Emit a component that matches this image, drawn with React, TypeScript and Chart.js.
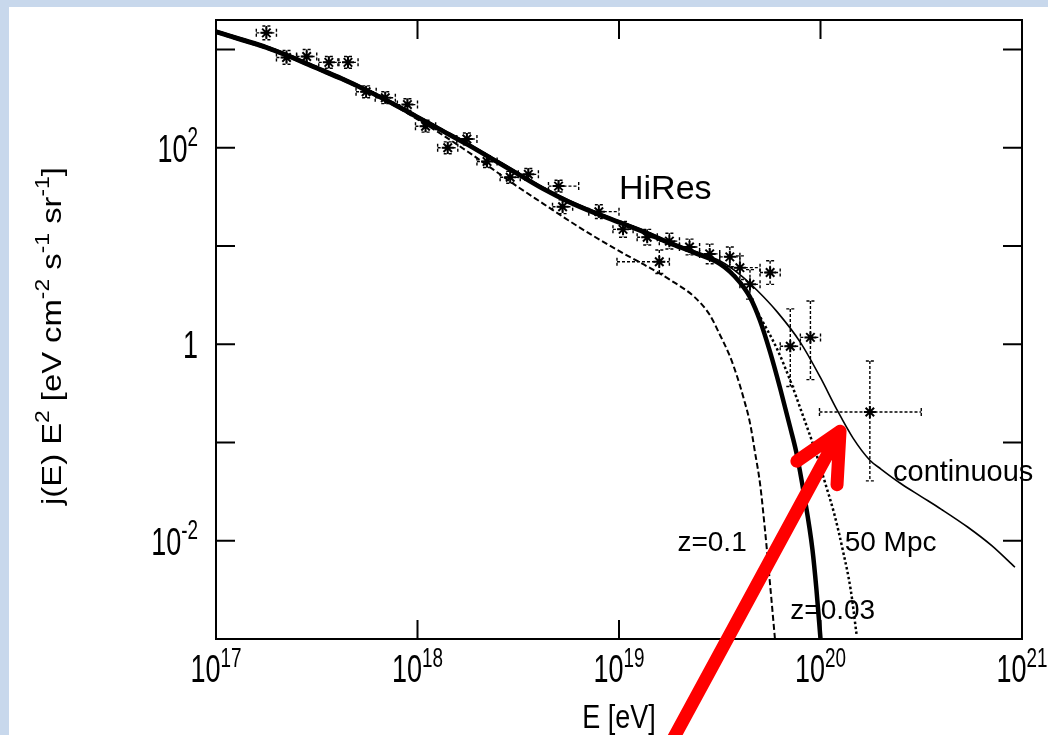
import React, { useEffect, useRef } from 'react';
import { Chart, registerables } from 'chart.js';

Chart.register(...registerables);

const W = 1048;
const H = 735;
const FONT = '"Liberation Sans", Arial, Helvetica, sans-serif';

// ---- Data (log10 E [eV], log10 j(E)E^2) ----
// z = 0.03 (thick solid)
const z003LogE = [17.0, 17.125, 17.25, 17.375, 17.5, 17.625, 17.75, 17.875, 18.0, 18.125, 18.25, 18.375, 18.5, 18.625, 18.75, 18.875, 19.0, 19.125, 19.25, 19.375, 19.5, 19.55, 19.6, 19.65, 19.7, 19.75, 19.8, 19.85, 19.88, 19.92, 19.96, 19.98, 20.0];
const z003LogJ = [3.18, 3.1, 3.02, 2.92, 2.81, 2.7, 2.58, 2.45, 2.31, 2.17, 2.03, 1.88, 1.73, 1.58, 1.45, 1.34, 1.24, 1.14, 1.03, 0.93, 0.82, 0.74, 0.63, 0.48, 0.24, -0.08, -0.45, -0.85, -1.1, -1.55, -2.09, -2.5, -3.0];
// z = 0.1 (dashed)
const z01LogE = [17.0, 17.125, 17.25, 17.375, 17.5, 17.625, 17.75, 17.875, 18.0, 18.125, 18.25, 18.375, 18.5, 18.625, 18.75, 18.875, 19.0, 19.125, 19.25, 19.375, 19.45, 19.5, 19.55, 19.585, 19.62, 19.65, 19.675, 19.7, 19.725, 19.75, 19.774];
const z01LogJ = [3.17, 3.09, 3.01, 2.91, 2.8, 2.69, 2.57, 2.44, 2.29, 2.13, 1.96, 1.78, 1.6, 1.43, 1.26, 1.1, 0.95, 0.81, 0.66, 0.48, 0.3, 0.1, -0.12, -0.32, -0.56, -0.8, -1.1, -1.42, -1.9, -2.45, -3.0];
// 50 Mpc (dotted)
const mpc50LogE = [17.0, 17.125, 17.25, 17.375, 17.5, 17.625, 17.75, 17.875, 18.0, 18.125, 18.25, 18.375, 18.5, 18.625, 18.75, 18.875, 19.0, 19.125, 19.25, 19.375, 19.5, 19.56, 19.615, 19.7, 19.785, 19.85, 19.91, 19.97, 20.02, 20.07, 20.11, 20.15, 20.18];
const mpc50LogJ = [3.19, 3.11, 3.03, 2.93, 2.82, 2.71, 2.59, 2.46, 2.32, 2.18, 2.04, 1.89, 1.74, 1.59, 1.46, 1.35, 1.25, 1.15, 1.04, 0.94, 0.83, 0.73, 0.6, 0.28, -0.05, -0.37, -0.71, -1.06, -1.39, -1.74, -2.09, -2.5, -2.97];
// continuous (thin solid)
const contLogE = [17.0, 17.125, 17.25, 17.375, 17.5, 17.625, 17.75, 17.875, 18.0, 18.125, 18.25, 18.375, 18.5, 18.625, 18.75, 18.875, 19.0, 19.125, 19.25, 19.375, 19.5, 19.6, 19.685, 19.785, 19.9, 20.0, 20.08, 20.16, 20.245, 20.3, 20.4, 20.5, 20.6, 20.73, 20.85, 20.965];
const contLogJ = [3.2, 3.12, 3.04, 2.94, 2.83, 2.72, 2.6, 2.47, 2.33, 2.19, 2.05, 1.9, 1.75, 1.6, 1.47, 1.36, 1.26, 1.16, 1.05, 0.95, 0.85, 0.71, 0.55, 0.33, 0.02, -0.34, -0.66, -0.95, -1.18, -1.27, -1.42, -1.55, -1.68, -1.86, -2.05, -2.27];

// HiRes data points
const hiresLogE = [17.25, 17.35, 17.45, 17.56, 17.655, 17.745, 17.84, 17.95, 18.04, 18.15, 18.245, 18.345, 18.46, 18.55, 18.7, 18.72, 18.9, 19.02, 19.14, 19.2, 19.25, 19.35, 19.45, 19.55, 19.6, 19.65, 19.75, 19.85, 19.95, 20.245];
const hiresLogJ = [3.17, 2.92, 2.93, 2.87, 2.87, 2.57, 2.51, 2.44, 2.22, 2.0, 2.09, 1.86, 1.7, 1.73, 1.61, 1.4, 1.35, 1.17, 1.09, 0.84, 1.05, 0.99, 0.92, 0.89, 0.78, 0.61, 0.73, -0.02, 0.07, -0.69];
const hiresXErrLo = [0.05, 0.05, 0.05, 0.05, 0.05, 0.05, 0.05, 0.05, 0.05, 0.05, 0.05, 0.05, 0.05, 0.05, 0.05, 0.05, 0.05, 0.05, 0.05, 0.21, 0.05, 0.05, 0.05, 0.05, 0.05, 0.05, 0.05, 0.05, 0.05, 0.25];
const hiresXErrHi = [0.05, 0.05, 0.05, 0.05, 0.05, 0.05, 0.05, 0.05, 0.05, 0.05, 0.05, 0.05, 0.05, 0.05, 0.1, 0.05, 0.1, 0.05, 0.05, 0.05, 0.05, 0.05, 0.05, 0.05, 0.1, 0.05, 0.05, 0.05, 0.05, 0.255];
const hiresYErrLo = [0.07, 0.07, 0.07, 0.06, 0.06, 0.06, 0.06, 0.06, 0.06, 0.06, 0.06, 0.06, 0.06, 0.06, 0.06, 0.07, 0.07, 0.08, 0.08, 0.12, 0.08, 0.08, 0.1, 0.1, 0.12, 0.15, 0.12, 0.41, 0.43, 0.7];
const hiresYErrHi = [0.07, 0.07, 0.07, 0.06, 0.06, 0.06, 0.06, 0.06, 0.06, 0.06, 0.06, 0.06, 0.06, 0.06, 0.06, 0.07, 0.07, 0.08, 0.08, 0.12, 0.08, 0.08, 0.1, 0.1, 0.12, 0.15, 0.12, 0.38, 0.37, 0.52];

// Axes
const xMinExp = 17;
const xMaxExp = 21;
const yMinExp = -3;
const yMax = 2000;
const xTickExps = [17, 18, 19, 20, 21];
const yTickExps = [-3, -2, -1, 0, 1, 2, 3];
const yLabelExps = [2, 0, -2];

// Annotations (log10 E, log10 J)
const labels = [
  { text: 'HiRes', logE: 19.0, logJ: 1.475, size: 34 },
  { text: 'continuous', logE: 20.36, logJ: -1.394, size: 29 },
  { text: 'z=0.1', logE: 19.29, logJ: -2.106, size: 28 },
  { text: '50 Mpc', logE: 20.12, logJ: -2.106, size: 28 },
  { text: 'z=0.03', logE: 19.85, logJ: -2.8, size: 28 },
];
const arrowTail = { logE: 19.26, logJ: -4.05 };
const arrowTip = { logE: 20.097, logJ: -0.885 };
const arrowWing1 = { logE: 19.883, logJ: -1.19 };
const arrowWing2 = { logE: 20.082, logJ: -1.43 };

const toPts = (xs: number[], ys: number[]) => xs.map((x, i) => ({ x: Math.pow(10, x), y: Math.pow(10, ys[i]) }));

type Part = { t: string; sup?: boolean };

function drawRich(
  ctx: CanvasRenderingContext2D,
  parts: Part[],
  x: number,
  y: number,
  size: number,
  align: 'left' | 'center' | 'right',
  sx = 1,
  sy = 1,
  supRatio = 0.72,
  rise = 0.42
) {
  const supSize = size * supRatio;
  ctx.save();
  ctx.translate(x, y);
  ctx.scale(sx, sy);
  ctx.textAlign = 'left';
  ctx.textBaseline = 'alphabetic';
  ctx.fillStyle = '#000';
  let total = 0;
  const widths = parts.map((p) => {
    ctx.font = `${p.sup ? supSize : size}px ${FONT}`;
    const w = ctx.measureText(p.t).width;
    total += w;
    return w;
  });
  let cx = align === 'left' ? 0 : align === 'center' ? -total / 2 : -total;
  parts.forEach((p, i) => {
    ctx.font = `${p.sup ? supSize : size}px ${FONT}`;
    ctx.fillText(p.t, cx, p.sup ? -size * rise : 0);
    cx += widths[i];
  });
  ctx.restore();
}

const expLabel = (e: number): Part[] => (e === 0 ? [{ t: '1' }] : [{ t: '10' }, { t: String(e), sup: true }]);

const decorPlugin = {
  id: 'decor',
  beforeDraw(chart: any) {
    const ctx: CanvasRenderingContext2D = chart.ctx;
    ctx.save();
    ctx.fillStyle = '#c8d8ec';
    ctx.fillRect(0, 0, W, H);
    ctx.fillStyle = '#ffffff';
    ctx.fillRect(9, 7, W - 9, H - 7);
    ctx.restore();
  },
  beforeDatasetsDraw(chart: any) {
    const ctx: CanvasRenderingContext2D = chart.ctx;
    const xs = chart.scales.x;
    const ys = chart.scales.y;
    const area = chart.chartArea;
    ctx.save();
    ctx.beginPath();
    ctx.rect(area.left, area.top, area.right - area.left, area.bottom - area.top);
    ctx.clip();
    ctx.strokeStyle = '#000';
    ctx.lineWidth = 1.4;
    ctx.setLineDash([3, 2]);
    hiresLogE.forEach((le, i) => {
      const lj = hiresLogJ[i];
      const px = xs.getPixelForValue(Math.pow(10, le));
      const py = ys.getPixelForValue(Math.pow(10, lj));
      const x0 = xs.getPixelForValue(Math.pow(10, le - hiresXErrLo[i]));
      const x1 = xs.getPixelForValue(Math.pow(10, le + hiresXErrHi[i]));
      const y0 = ys.getPixelForValue(Math.pow(10, lj + hiresYErrHi[i]));
      const y1 = ys.getPixelForValue(Math.pow(10, lj - hiresYErrLo[i]));
      const c = 4;
      ctx.beginPath();
      ctx.moveTo(x0, py); ctx.lineTo(x1, py);
      ctx.moveTo(px, y0); ctx.lineTo(px, y1);
      ctx.moveTo(x0, py - c); ctx.lineTo(x0, py + c);
      ctx.moveTo(x1, py - c); ctx.lineTo(x1, py + c);
      ctx.moveTo(px - c, y0); ctx.lineTo(px + c, y0);
      ctx.moveTo(px - c, y1); ctx.lineTo(px + c, y1);
      ctx.stroke();
    });
    ctx.restore();
  },
  afterDraw(chart: any) {
    const ctx: CanvasRenderingContext2D = chart.ctx;
    const xs = chart.scales.x;
    const ys = chart.scales.y;
    const a = chart.chartArea;
    const tl = 19;
    ctx.save();
    ctx.strokeStyle = '#000';
    ctx.lineWidth = 2;
    ctx.setLineDash([]);
    ctx.strokeRect(a.left, a.top, a.right - a.left, a.bottom - a.top);
    ctx.beginPath();
    xTickExps.forEach((e) => {
      const px = xs.getPixelForValue(Math.pow(10, e));
      ctx.moveTo(px, a.bottom); ctx.lineTo(px, a.bottom - tl);
      ctx.moveTo(px, a.top); ctx.lineTo(px, a.top + tl);
    });
    yTickExps.forEach((e) => {
      const py = ys.getPixelForValue(Math.pow(10, e));
      ctx.moveTo(a.left, py); ctx.lineTo(a.left + tl, py);
      ctx.moveTo(a.right, py); ctx.lineTo(a.right - tl, py);
    });
    ctx.stroke();

    // tick labels
    xTickExps.forEach((e) => {
      const px = xs.getPixelForValue(Math.pow(10, e));
      drawRich(ctx, expLabel(e), px, a.bottom + 43, 27, 'center', 1, 1.42, 0.7, 0.4);
    });
    yLabelExps.forEach((e) => {
      const py = ys.getPixelForValue(Math.pow(10, e));
      drawRich(ctx, expLabel(e), a.left - 18, py + 14, 27, 'right', 1, 1.42, 0.7, 0.4);
    });

    // axis titles
    drawRich(ctx, [{ t: 'E [eV]' }], (a.left + a.right) / 2, 728, 27, 'center', 1, 1.2);
    ctx.save();
    ctx.translate(61, 336);
    ctx.rotate(-Math.PI / 2);
    drawRich(
      ctx,
      [
        { t: 'j(E) E' }, { t: '2', sup: true }, { t: ' [eV cm' }, { t: '-2', sup: true },
        { t: ' s' }, { t: '-1', sup: true }, { t: ' sr' }, { t: '-1', sup: true }, { t: ']' },
      ],
      0, 0, 28, 'center', 1.17, 1, 0.7, 0.42
    );
    ctx.restore();

    // annotation labels
    labels.forEach((l) => {
      const px = xs.getPixelForValue(Math.pow(10, l.logE));
      const py = ys.getPixelForValue(Math.pow(10, l.logJ));
      drawRich(ctx, [{ t: l.text }], px, py, l.size, 'left');
    });

    // red arrow
    const P = (p: { logE: number; logJ: number }) => [
      xs.getPixelForValue(Math.pow(10, p.logE)),
      ys.getPixelForValue(Math.pow(10, p.logJ)),
    ];
    const [tx, ty] = P(arrowTail);
    const [hx, hy] = P(arrowTip);
    const [w1x, w1y] = P(arrowWing1);
    const [w2x, w2y] = P(arrowWing2);
    ctx.strokeStyle = '#ff0000';
    ctx.lineWidth = 13;
    ctx.lineCap = 'round';
    ctx.lineJoin = 'round';
    ctx.beginPath();
    ctx.moveTo(tx, ty); ctx.lineTo(hx, hy);
    ctx.moveTo(w1x, w1y); ctx.lineTo(hx, hy); ctx.lineTo(w2x, w2y);
    ctx.stroke();
    ctx.restore();
  },
};

export default function App() {
  const ref = useRef<HTMLCanvasElement | null>(null);
  useEffect(() => {
    if (!ref.current) return;
    const common = { showLine: true, pointRadius: 0, borderColor: '#000', backgroundColor: '#000', cubicInterpolationMode: 'monotone' as const, fill: false };
    const chart = new Chart(ref.current, {
      type: 'scatter',
      data: {
        datasets: [
          { label: 'HiRes', data: toPts(hiresLogE, hiresLogJ), showLine: false, pointStyle: 'star', pointRadius: 6, borderWidth: 2, borderColor: '#000', backgroundColor: '#000' },
          { label: 'z=0.03', data: toPts(z003LogE, z003LogJ), ...common, borderWidth: 4.5 },
          { label: 'z=0.1', data: toPts(z01LogE, z01LogJ), ...common, borderWidth: 2, borderDash: [6, 3] },
          { label: '50 Mpc', data: toPts(mpc50LogE, mpc50LogJ), ...common, borderWidth: 2.5, borderDash: [2.5, 2.5] },
          { label: 'continuous', data: toPts(contLogE, contLogJ), ...common, borderWidth: 1.6 },
        ] as any,
      },
      options: {
        responsive: false,
        animation: false,
        devicePixelRatio: 1,
        layout: { padding: { left: 216, top: 20, right: 26, bottom: 96 } },
        plugins: { legend: { display: false }, tooltip: { enabled: false } },
        scales: {
          x: { type: 'logarithmic', min: Math.pow(10, xMinExp), max: Math.pow(10, xMaxExp), display: false },
          y: { type: 'logarithmic', min: Math.pow(10, yMinExp), max: yMax, display: false },
        },
      } as any,
      plugins: [decorPlugin],
    });
    return () => chart.destroy();
  }, []);
  return (
    <div style={{ position: 'fixed', left: 0, top: 0, width: W, height: H }}>
      <canvas ref={ref} width={W} height={H} style={{ width: W, height: H, display: 'block' }} />
    </div>
  );
}
